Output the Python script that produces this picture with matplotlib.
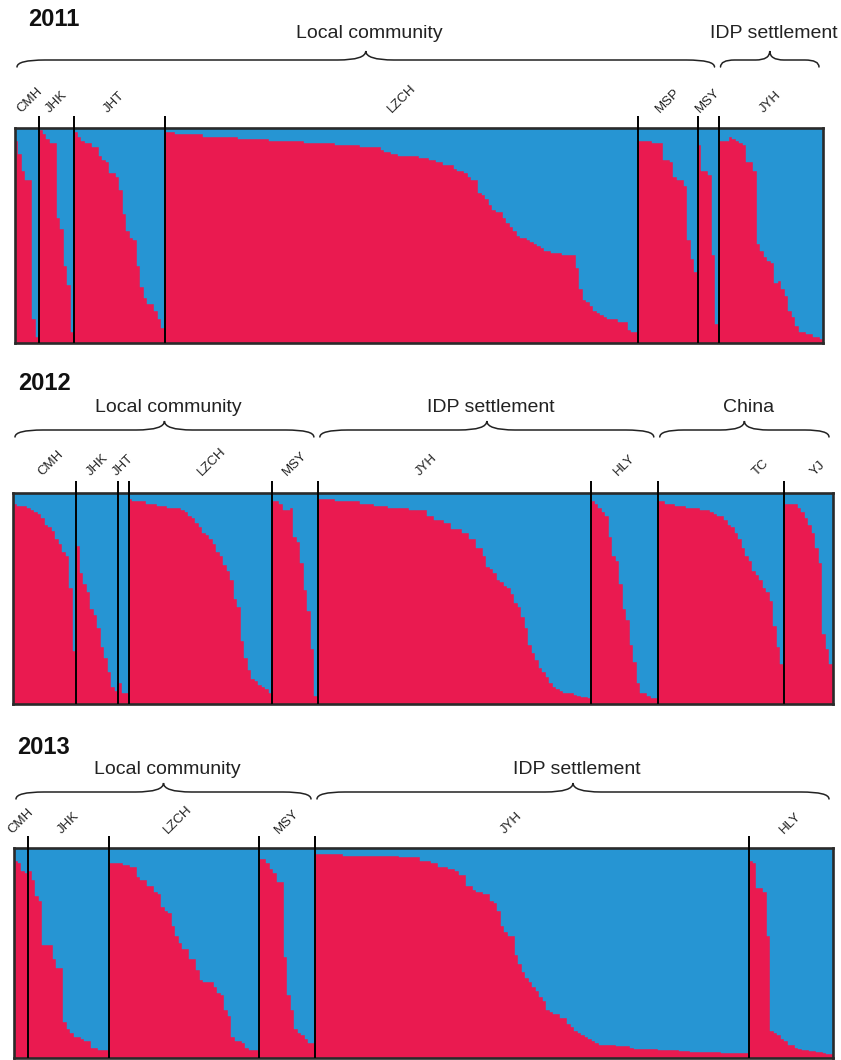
import matplotlib.pyplot as plt
from matplotlib.path import Path
from matplotlib.patches import PathPatch

plt.rcParams["font.family"] = ["Liberation Sans", "DejaVu Sans"]

RED = "#EA1A50"
BLUE = "#2695D3"
INK = "#222222"

# red-cluster membership (q) per individual, sorted within each population
pops_2011 = ["CMH", "JHK", "JHT", "LZCH", "MSP", "MSY", "JYH"]
q_2011 = [
    [0.94, 0.88, 0.80, 0.76, 0.76, 0.11, 0.03],
    [0.99, 0.97, 0.95, 0.93, 0.93, 0.58, 0.53, 0.36, 0.27, 0.05],
    [0.98, 0.96, 0.94, 0.93, 0.93, 0.91, 0.91, 0.87, 0.85, 0.84,
     0.79, 0.79, 0.77, 0.71, 0.60, 0.52, 0.49, 0.48, 0.36, 0.26,
     0.21, 0.18, 0.18, 0.15, 0.11, 0.07],
    [0.98, 0.98, 0.98, 0.97, 0.97, 0.97, 0.97, 0.97, 0.97, 0.97,
     0.97, 0.96, 0.96, 0.96, 0.96, 0.96, 0.96, 0.96, 0.96, 0.96,
     0.96, 0.95, 0.95, 0.95, 0.95, 0.95, 0.95, 0.95, 0.95, 0.95,
     0.94, 0.94, 0.94, 0.94, 0.94, 0.94, 0.94, 0.94, 0.94, 0.94,
     0.93, 0.93, 0.93, 0.93, 0.93, 0.93, 0.93, 0.93, 0.93, 0.92,
     0.92, 0.92, 0.92, 0.92, 0.92, 0.92, 0.91, 0.91, 0.91, 0.91,
     0.91, 0.91, 0.90, 0.89, 0.89, 0.88, 0.88, 0.87, 0.87, 0.87,
     0.87, 0.87, 0.87, 0.86, 0.86, 0.86, 0.85, 0.85, 0.84, 0.84,
     0.83, 0.83, 0.83, 0.81, 0.80, 0.80, 0.79, 0.77, 0.76, 0.76,
     0.70, 0.69, 0.67, 0.64, 0.62, 0.61, 0.61, 0.58, 0.56, 0.54,
     0.52, 0.50, 0.49, 0.49, 0.48, 0.47, 0.46, 0.45, 0.44, 0.43,
     0.43, 0.42, 0.42, 0.42, 0.41, 0.41, 0.41, 0.41, 0.35, 0.25,
     0.20, 0.19, 0.17, 0.15, 0.14, 0.13, 0.12, 0.11, 0.11, 0.11,
     0.10, 0.10, 0.10, 0.06, 0.05, 0.05],
    [0.94, 0.94, 0.94, 0.94, 0.93, 0.93, 0.93, 0.85, 0.85, 0.84,
     0.77, 0.76, 0.76, 0.73, 0.48, 0.39, 0.33],
    [0.92, 0.80, 0.80, 0.78, 0.41, 0.09],
    [0.94, 0.94, 0.94, 0.96, 0.95, 0.94, 0.93, 0.92, 0.84, 0.84,
     0.80, 0.46, 0.43, 0.40, 0.38, 0.37, 0.28, 0.29, 0.25, 0.22,
     0.15, 0.12, 0.08, 0.05, 0.05, 0.04, 0.04, 0.03, 0.03, 0.02],
]
groups_2011 = [("Local community", "CMH", "MSY"), ("IDP settlement", "JYH", "JYH")]

pops_2012 = ["CMH", "JHK", "JHT", "LZCH", "MSY", "JYH", "HLY", "TC", "YJ"]
q_2012 = [
    [0.95, 0.94, 0.94, 0.94, 0.93, 0.92, 0.91, 0.90, 0.88, 0.85,
     0.84, 0.82, 0.78, 0.76, 0.72, 0.70, 0.55, 0.25],
    [0.75, 0.62, 0.57, 0.53, 0.45, 0.42, 0.36, 0.27, 0.22, 0.15, 0.08, 0.06],
    [0.10, 0.05, 0.05],
    [0.97, 0.96, 0.96, 0.96, 0.96, 0.95, 0.95, 0.95, 0.94, 0.94,
     0.94, 0.93, 0.93, 0.93, 0.93, 0.92, 0.91, 0.89, 0.88, 0.86,
     0.84, 0.81, 0.80, 0.78, 0.76, 0.72, 0.70, 0.66, 0.63, 0.59,
     0.50, 0.46, 0.30, 0.22, 0.16, 0.12, 0.11, 0.09, 0.08, 0.07, 0.05],
    [0.96, 0.96, 0.95, 0.92, 0.92, 0.93, 0.79, 0.77, 0.67, 0.54, 0.44, 0.26, 0.04],
    [0.97, 0.97, 0.97, 0.97, 0.97, 0.96, 0.96, 0.96, 0.96, 0.96,
     0.96, 0.96, 0.95, 0.95, 0.95, 0.95, 0.94, 0.94, 0.94, 0.94,
     0.93, 0.93, 0.93, 0.93, 0.93, 0.93, 0.92, 0.92, 0.92, 0.92,
     0.92, 0.89, 0.89, 0.87, 0.87, 0.87, 0.86, 0.86, 0.83, 0.83,
     0.83, 0.81, 0.81, 0.78, 0.78, 0.74, 0.74, 0.70, 0.65, 0.64,
     0.62, 0.59, 0.58, 0.56, 0.55, 0.52, 0.48, 0.46, 0.41, 0.36,
     0.28, 0.24, 0.21, 0.17, 0.15, 0.13, 0.10, 0.08, 0.07, 0.06,
     0.05, 0.05, 0.05, 0.045, 0.04, 0.035, 0.035, 0.03],
    [0.96, 0.95, 0.93, 0.91, 0.89, 0.79, 0.70, 0.68, 0.57, 0.45,
     0.40, 0.28, 0.20, 0.10, 0.05, 0.05, 0.04, 0.03, 0.03],
    [0.96, 0.96, 0.95, 0.95, 0.95, 0.94, 0.94, 0.94, 0.93, 0.93,
     0.93, 0.93, 0.92, 0.92, 0.92, 0.91, 0.90, 0.89, 0.89, 0.87,
     0.85, 0.84, 0.81, 0.78, 0.74, 0.70, 0.68, 0.63, 0.61, 0.59,
     0.55, 0.53, 0.49, 0.37, 0.27, 0.19],
    [0.95, 0.95, 0.95, 0.95, 0.93, 0.91, 0.88, 0.85, 0.81, 0.74, 0.67, 0.33, 0.26, 0.19],
]
groups_2012 = [("Local community", "CMH", "MSY"), ("IDP settlement", "JYH", "HLY"),
               ("China", "TC", "YJ")]

pops_2013 = ["CMH", "JHK", "LZCH", "MSY", "JYH", "HLY"]
q_2013 = [
    [0.94, 0.93, 0.89, 0.88],
    [0.89, 0.85, 0.77, 0.75, 0.54, 0.54, 0.54, 0.47, 0.43, 0.43,
     0.17, 0.14, 0.12, 0.10, 0.10, 0.09, 0.08, 0.08, 0.05, 0.05,
     0.04, 0.04, 0.04],
    [0.93, 0.93, 0.93, 0.93, 0.92, 0.92, 0.91, 0.91, 0.86, 0.85,
     0.85, 0.82, 0.82, 0.79, 0.78, 0.72, 0.70, 0.69, 0.63, 0.58,
     0.55, 0.52, 0.52, 0.47, 0.47, 0.42, 0.37, 0.36, 0.36, 0.36,
     0.34, 0.31, 0.30, 0.23, 0.20, 0.10, 0.08, 0.08, 0.07, 0.05,
     0.04, 0.04, 0.04],
    [0.95, 0.95, 0.93, 0.90, 0.88, 0.84, 0.84, 0.48, 0.30, 0.23,
     0.14, 0.12, 0.11, 0.09, 0.07, 0.07],
    [0.97, 0.97, 0.97, 0.97, 0.97, 0.97, 0.97, 0.97, 0.96, 0.96,
     0.96, 0.96, 0.96, 0.96, 0.96, 0.96, 0.96, 0.96, 0.96, 0.96,
     0.96, 0.96, 0.96, 0.96, 0.955, 0.955, 0.955, 0.955, 0.955, 0.955,
     0.94, 0.94, 0.94, 0.93, 0.93, 0.91, 0.91, 0.91, 0.90, 0.90,
     0.89, 0.87, 0.87, 0.82, 0.82, 0.80, 0.79, 0.79, 0.78, 0.78,
     0.75, 0.74, 0.70, 0.63, 0.60, 0.58, 0.58, 0.49, 0.45, 0.41,
     0.38, 0.36, 0.34, 0.32, 0.29, 0.27, 0.23, 0.22, 0.21, 0.21,
     0.19, 0.19, 0.16, 0.15, 0.13, 0.12, 0.11, 0.10, 0.09, 0.08,
     0.07, 0.06, 0.06, 0.06, 0.06, 0.06, 0.055, 0.055, 0.055, 0.055,
     0.05, 0.045, 0.045, 0.045, 0.045, 0.045, 0.045, 0.045, 0.04, 0.04,
     0.04, 0.04, 0.04, 0.04, 0.035, 0.035, 0.035, 0.03, 0.03, 0.03,
     0.03, 0.03, 0.03, 0.03, 0.03, 0.03, 0.025, 0.025, 0.025, 0.025,
     0.025, 0.025, 0.025, 0.025],
    [0.94, 0.93, 0.81, 0.81, 0.79, 0.58, 0.13, 0.12, 0.11, 0.09,
     0.08, 0.06, 0.06, 0.05, 0.045, 0.04, 0.04, 0.035, 0.035, 0.03,
     0.03, 0.025, 0.02, 0.02],
]
groups_2013 = [("Local community", "CMH", "MSY"), ("IDP settlement", "JYH", "HLY")]

W, H = 841, 1060

# page layout in pixels: plot box (left, top, right, bottom), rows for year,
# group names and braces, plus nudges for a few population labels
panels = [
    dict(year="2011", pops=pops_2011, q=q_2011, groups=groups_2011,
         box=(15, 128, 823, 343), year_xy=(28, 19), text_y=33, brace_y=60,
         label_gap=13, shift={"CMH": 3, "JHT": -5}),
    dict(year="2012", pops=pops_2012, q=q_2012, groups=groups_2012,
         box=(13, 493, 833, 704), year_xy=(18, 383), text_y=407, brace_y=430,
         label_gap=15, shift={"CMH": 6, "LZCH": 11, "JYH": -28, "TC": 40, "YJ": 10}),
    dict(year="2013", pops=pops_2013, q=q_2013, groups=groups_2013,
         box=(14, 848, 833, 1058), year_xy=(17, 748), text_y=770, brace_y=792,
         label_gap=12, shift={"LZCH": -6, "JYH": -20}),
]

fig = plt.figure(figsize=(W / 100, H / 100), dpi=100)
over = fig.add_axes([0, 0, 1, 1], zorder=5)
over.set_xlim(0, W)
over.set_ylim(H, 0)
over.axis("off")
over.patch.set_alpha(0)


def draw_brace(x0, x1, y, rise=9, drop=7):
    c = min(28, (x1 - x0) / 7)
    xm = (x0 + x1) / 2
    verts = [(x0, y + drop), (x0, y), (x0 + c, y), (xm - c, y),
             (xm, y), (xm, y - rise), (xm, y), (xm + c, y),
             (x1 - c, y), (x1, y), (x1, y + drop)]
    codes = [Path.MOVETO, Path.CURVE3, Path.CURVE3, Path.LINETO,
             Path.CURVE3, Path.CURVE3, Path.CURVE3, Path.CURVE3,
             Path.LINETO, Path.CURVE3, Path.CURVE3]
    over.add_patch(PathPatch(Path(verts, codes), fill=False, lw=1.1,
                             edgecolor=INK, capstyle="round"))


for p in panels:
    left, top, right, bottom = p["box"]
    ax = fig.add_axes([left / W, 1 - bottom / H, (right - left) / W, (bottom - top) / H])
    sizes = [len(v) for v in p["q"]]
    n = sum(sizes)
    starts = [sum(sizes[:i]) for i in range(len(sizes))]

    for s, vals in zip(starts, p["q"]):
        xs = [s + i for i in range(len(vals))]
        blue = [1 - v for v in vals]
        ax.bar(xs, vals, width=1.0, align="edge", color=RED, edgecolor=RED, linewidth=0.3)
        ax.bar(xs, blue, width=1.0, bottom=vals, align="edge", color=BLUE,
               edgecolor=BLUE, linewidth=0.3)

    ax.set_xlim(0, n)
    ax.set_ylim(0, 1)
    ax.set_xticks([])
    ax.set_yticks([])
    for sp in ax.spines.values():
        sp.set_linewidth(1.9)
        sp.set_color("#2a2a2a")

    ext = 1 + 12 / (bottom - top)
    ax.vlines(starts[1:], 0, ext, colors="black", linewidth=1.4, clip_on=False, zorder=4)

    px = lambda idx: left + idx / n * (right - left)

    for name, s, size in zip(p["pops"], starts, sizes):
        cx = px(s + size / 2) + p["shift"].get(name, 0)
        over.text(cx, top - p["label_gap"], name, rotation=45, ha="center", va="bottom",
                  fontsize=9.5, color=INK)

    for gname, first, last in p["groups"]:
        i0 = p["pops"].index(first)
        i1 = p["pops"].index(last)
        x0 = px(starts[i0]) + 2
        x1 = px(starts[i1] + sizes[i1]) - 4
        draw_brace(x0, x1, p["brace_y"])
        over.text((x0 + x1) / 2 + 4, p["text_y"], gname, ha="center", va="center",
                  fontsize=14, color=INK)

    yx, yy = p["year_xy"]
    over.text(yx, yy, p["year"], ha="left", va="center", fontsize=17,
              fontweight="bold", color="#111111")

fig.savefig("out.png", dpi=100, facecolor="white")
